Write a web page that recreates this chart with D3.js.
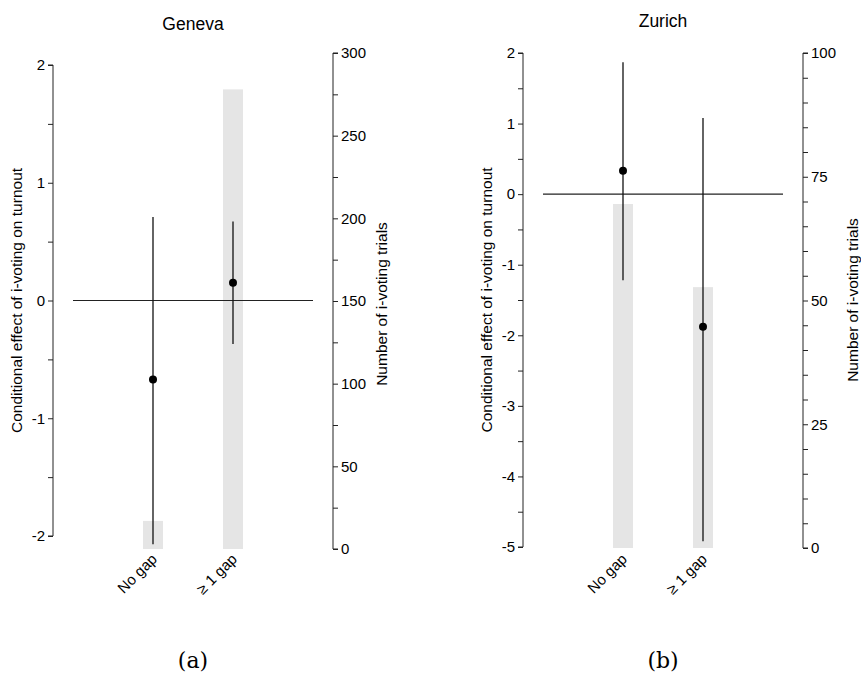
<!DOCTYPE html>
<html>
<head>
<meta charset="utf-8">
<script src="https://cdn.jsdelivr.net/npm/d3@7"></script>
<style>
  body { margin: 0; background: #fff; }
</style>
</head>
<body>
<div class="chart"></div>
<script>
var categories = ['No gap', '\u2265 1 gap'];

// Geneva
var genevaEffect = [-0.67, 0.15];
var genevaLow = [-2.07, -0.37];
var genevaHigh = [0.71, 0.67];
var genevaTrials = [17, 278];
var genevaEffectTicks = [-2, -1, 0, 1, 2];
var genevaTrialTicks = [0, 50, 100, 150, 200, 250, 300];

// Zurich
var zurichEffect = [0.33, -1.88];
var zurichLow = [-1.22, -4.92];
var zurichHigh = [1.87, 1.08];
var zurichTrials = [69.5, 52.7];
var zurichEffectTicks = [-5, -4, -3, -2, -1, 0, 1, 2];
var zurichTrialTicks = [0, 25, 50, 75, 100];

var FONT = '"Liberation Sans", Arial, Helvetica, sans-serif';

var svg = d3.select('.chart')
    .append('svg')
    .attr('width', 861)
    .attr('height', 675)

function panel(opt) {
    var g = svg.append('g')
        .attr('transform', `translate(${opt.left}, 0)`)

    var xScale = d3.scalePoint()
        .domain(categories)
        .range([20, 260])
        .padding(1)

    var yScale = d3.scaleLinear()
        .domain(opt.effectDomain)
        .range(opt.effectRange)

    var y2Scale = d3.scaleLinear()
        .domain(opt.trialDomain)
        .range(opt.trialRange)

    var rows = categories.map(function (c, i) {
        return { cat: c, eff: opt.effect[i], lo: opt.low[i], hi: opt.high[i], n: opt.trials[i] }
    })

    // bars for number of trials
    g.selectAll('.bar')
        .data(rows)
        .enter().append('rect')
        .attr('x', d => xScale(d.cat) - 10)
        .attr('width', 20)
        .attr('y', d => y2Scale(d.n))
        .attr('height', d => y2Scale(0) - y2Scale(d.n))
        .style('fill', '#e5e5e5')

    // zero line
    g.append('line')
        .attr('x1', 20).attr('x2', 260)
        .attr('y1', yScale(0)).attr('y2', yScale(0))
        .style('stroke', '#222')
        .style('stroke-width', 1.1)

    // confidence intervals
    g.selectAll('.ci')
        .data(rows)
        .enter().append('line')
        .attr('x1', d => xScale(d.cat)).attr('x2', d => xScale(d.cat))
        .attr('y1', d => yScale(d.lo)).attr('y2', d => yScale(d.hi))
        .style('stroke', '#111')
        .style('stroke-width', 1.3)

    g.selectAll('.pt')
        .data(rows)
        .enter().append('circle')
        .attr('cx', d => xScale(d.cat))
        .attr('cy', d => yScale(d.eff))
        .attr('r', 4)
        .style('fill', '#000')

    // left axis
    var minorL = d3.range(opt.effectDomain[0], opt.effectDomain[1] + 0.001, 0.5)
    var yAxis = d3.axisLeft(yScale)
        .tickValues(minorL)
        .tickSize(5)
        .tickPadding(3)
        .tickFormat(d => opt.effectTicks.indexOf(d) >= 0 ? String(d) : '')
    var ya = g.append('g').call(yAxis)
    ya.select('.domain').attr('d', `M-5,${yScale(opt.effectDomain[1])}H0V${yScale(opt.effectDomain[0])}H-5`)

    // right axis
    var minorR = d3.range(opt.trialDomain[0], opt.trialDomain[1] + 0.001, opt.trialMinor)
    var y2Axis = d3.axisRight(y2Scale)
        .tickValues(minorR)
        .tickSize(5)
        .tickPadding(3)
        .tickFormat(d => opt.trialTicks.indexOf(d) >= 0 ? String(d) : '')
    var ya2 = g.append('g')
        .attr('transform', 'translate(280,0)')
        .call(y2Axis)
    ya2.select('.domain').attr('d', `M5,${y2Scale(opt.trialDomain[1])}H0V${y2Scale(opt.trialDomain[0])}H5`)

    g.selectAll('.tick text')
        .style('font-family', FONT)
        .style('font-size', '15px')
        .style('fill', '#000')
    g.selectAll('.domain, .tick line').style('stroke', '#222')

    // x labels
    g.selectAll('.xl')
        .data(categories)
        .enter().append('text')
        .attr('text-anchor', 'end')
        .attr('transform', d => `translate(${xScale(d) + 5}, ${560}) rotate(-45)`)
        .style('font-family', FONT)
        .style('font-size', '15px')
        .style('fill', '#000')
        .text(d => d)

    // axis titles
    g.append('text')
        .attr('transform', `translate(-31, ${(opt.effectRange[0] + opt.effectRange[1]) / 2}) rotate(-90)`)
        .attr('text-anchor', 'middle')
        .style('font-family', FONT)
        .style('font-size', '15.5px')
        .text('Conditional effect of i-voting on turnout')

    g.append('text')
        .attr('transform', `translate(${opt.rightLabelX}, ${opt.rightLabelY}) rotate(-90)`)
        .attr('text-anchor', 'middle')
        .style('font-family', FONT)
        .style('font-size', '15.5px')
        .text('Number of i-voting trials')

    g.append('text')
        .attr('x', 140).attr('y', opt.titleY)
        .attr('text-anchor', 'middle')
        .style('font-family', FONT)
        .style('font-size', '17.5px')
        .text(opt.title)

    g.append('text')
        .attr('x', 140).attr('y', 668)
        .attr('text-anchor', 'middle')
        .style('font-family', '"DejaVu Serif", "Liberation Serif", serif')
        .style('font-size', '22px')
        .text(opt.caption)
}

panel({
    left: 53, title: 'Geneva', titleY: 30, caption: '(a)',
    effect: genevaEffect, low: genevaLow, high: genevaHigh, trials: genevaTrials,
    effectDomain: [-2, 2], effectRange: [536, 65], effectTicks: genevaEffectTicks,
    trialDomain: [0, 300], trialRange: [549, 53], trialTicks: genevaTrialTicks, trialMinor: 25,
    rightLabelX: 334, rightLabelY: 304
})

panel({
    left: 523, title: 'Zurich', titleY: 27, caption: '(b)',
    effect: zurichEffect, low: zurichLow, high: zurichHigh, trials: zurichTrials,
    effectDomain: [-5, 2], effectRange: [547, 53], effectTicks: zurichEffectTicks,
    trialDomain: [0, 100], trialRange: [548, 53], trialTicks: zurichTrialTicks, trialMinor: 5,
    rightLabelX: 335, rightLabelY: 300
})
</script>
</body>
</html>
